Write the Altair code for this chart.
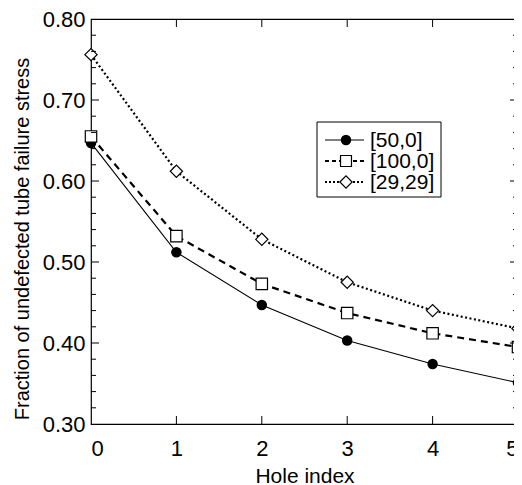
import altair as alt
import numpy as np
import pandas as pd

holes = [0, 1, 2, 3, 4, 5]
s50 = [0.647, 0.512, 0.447, 0.403, 0.374, 0.351]
s100 = [0.655, 0.532, 0.473, 0.437, 0.412, 0.395]
s29 = [0.756, 0.612, 0.528, 0.475, 0.440, 0.418]
names = ["[50,0]", "[100,0]", "[29,29]"]

W, H = 427, 405
FONT = "Liberation Sans"

def sdf(vals, name):
    return pd.DataFrame({"hole": holes, "value": vals, "series": name})

xs = alt.Scale(domain=[0, 5], nice=False)
ys = alt.Scale(domain=[0.3, 0.8], nice=False)

X = alt.X("hole:Q", scale=xs,
          axis=alt.Axis(values=holes, format="d", ticks=False, grid=False, domain=False, labelFontSize=22,
                        labelFont=FONT, labelColor="black", labelPadding=14, title="Hole index",
                        titleFont=FONT, titleFontSize=21, titleFontWeight="normal", titleColor="black",
                        titleY=52, titleBaseline="middle"))
Y = alt.Y("value:Q", scale=ys,
          axis=alt.Axis(values=[0.3, 0.4, 0.5, 0.6, 0.7, 0.8], format=".2f", ticks=False, grid=False,
                        domain=False, labelFontSize=22, labelFont=FONT, labelColor="black", labelPadding=6,
                        title="Fraction of undefected tube failure stress", titleFont=FONT,
                        titleFontSize=20, titleFontWeight="normal", titleColor="black",
                        titleX=-69, titleY=H / 2 + 17, titleAngle=-90, titleBaseline="middle"))

d50, d100, d29 = sdf(s50, names[0]), sdf(s100, names[1]), sdf(s29, names[2])

l50 = alt.Chart(d50).mark_line(color="black", strokeWidth=1.1).encode(x=X, y=Y)
l100 = alt.Chart(d100).mark_line(color="black", strokeWidth=2.2, strokeDash=[7, 5]).encode(x=X, y=Y)
l29 = alt.Chart(d29).mark_line(color="black", strokeWidth=2.2, strokeDash=[2, 2.5]).encode(x=X, y=Y)

p50 = alt.Chart(d50).mark_point(shape="circle", filled=True, color="black", size=110, opacity=1).encode(x=X, y=Y)
p100 = alt.Chart(d100).mark_point(shape="square", filled=True, fill="white", stroke="black",
                                  strokeWidth=1.2, size=130, opacity=1).encode(x=X, y=Y)
p29 = alt.Chart(d29).mark_point(shape="diamond", filled=True, fill="white", stroke="black",
                                strokeWidth=1.2, size=150, opacity=1).encode(x=X, y=Y)

# inward ticks
ymajor = pd.DataFrame({"value": [0.4, 0.5, 0.6, 0.7]})
yminor = pd.DataFrame({"value": [round(v, 2) for v in np.arange(0.32, 0.8, 0.02) if round(v * 100) % 10 != 0]})
xmajor = pd.DataFrame({"hole": [1, 2, 3, 4]})

def yt(df, x0, x1):
    return alt.Chart(df).mark_rule(color="black", strokeWidth=1).encode(
        y=Y, x=alt.value(x0), x2=alt.value(x1))

def xt(df, y0, y1):
    return alt.Chart(df).mark_rule(color="black", strokeWidth=1).encode(
        x=X, y=alt.value(y0), y2=alt.value(y1))

ticks = [yt(ymajor, 0, 8), yt(yminor, 0, 5), yt(ymajor, W, W - 8), yt(yminor, W, W - 5),
         xt(xmajor, H, H - 8), xt(xmajor, 0, 8)]

# legend
one = pd.DataFrame({"a": [0]})
LX0, LX1, LY0, LY1 = 226, 350, 103, 178
box = alt.Chart(one).mark_rect(fill="white", stroke="black", strokeWidth=1).encode(
    x=alt.value(LX0), x2=alt.value(LX1), y=alt.value(LY0), y2=alt.value(LY1))
rows = [(121, names[0], dict(strokeWidth=1.1), dict(shape="circle", filled=True, color="black", size=110)),
        (142, names[1], dict(strokeWidth=2.2, strokeDash=[4, 3]),
         dict(shape="square", filled=True, fill="white", stroke="black", strokeWidth=1.2, size=120)),
        (163, names[2], dict(strokeWidth=2.2, strokeDash=[2, 2]),
         dict(shape="diamond", filled=True, fill="white", stroke="black", strokeWidth=1.2, size=150))]
leg = [box]
for yy, nm, lk, pk in rows:
    leg.append(alt.Chart(one).mark_rule(color="black", **lk).encode(
        x=alt.value(234), x2=alt.value(273), y=alt.value(yy)))
    leg.append(alt.Chart(one).mark_point(opacity=1, **pk).encode(x=alt.value(255), y=alt.value(yy)))
    leg.append(alt.Chart(one).mark_text(align="left", baseline="middle", font=FONT, fontSize=21,
                                        color="black").encode(
        x=alt.value(279), y=alt.value(yy + 1), text=alt.value(nm)))

chart = alt.layer(l50, l100, l29, p50, p100, p29, *ticks, *leg).properties(
    width=W, height=H,
    autosize=alt.AutoSizeParams(type="none"),
    padding={"left": 83, "top": 11, "right": -4, "bottom": 66},
).configure_view(stroke="black", strokeWidth=1.2)

chart.save("out.html", embed_options={"renderer": "svg", "actions": False})
